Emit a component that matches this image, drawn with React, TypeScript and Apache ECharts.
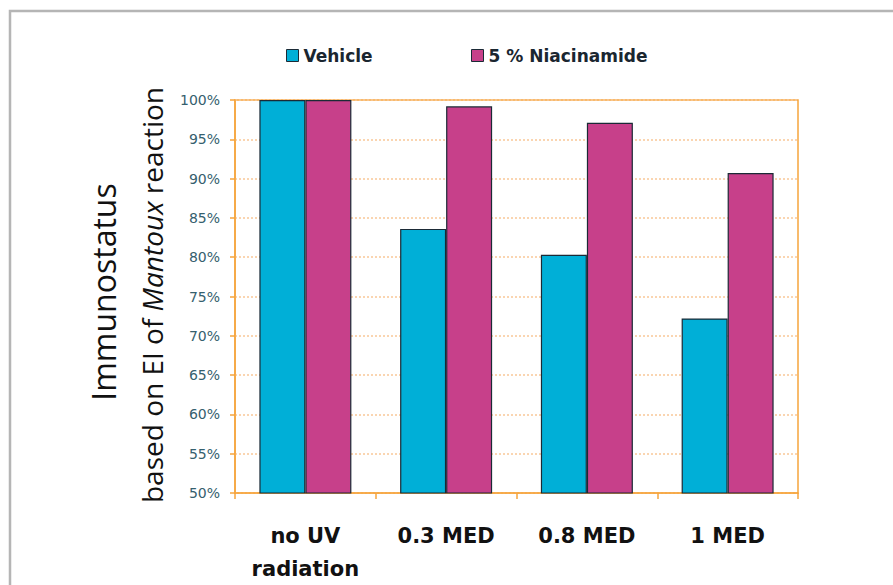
import React, { useEffect, useRef } from "react";
import * as echarts from "echarts";

const categories = ["no UV\nradiation", "0.3 MED", "0.8 MED", "1 MED"];
const vehicleValues = [100, 83.6, 80.3, 72.2];
const niacinamideValues = [100, 99.2, 97.1, 90.7];
const seriesNames = ["Vehicle", "5 % Niacinamide"];
const yMin = 50;
const yMax = 100;
const yStep = 5;

const ORANGE = "#f6a53c";
const GRID_DOT = "#f9c898";

export default function App() {
  const ref = useRef<HTMLDivElement>(null);
  useEffect(() => {
    if (!ref.current) return;
    const chart = echarts.init(ref.current, null, { renderer: "svg" });
    const legendText = { fontFamily: "DejaVu Sans", fontWeight: "bold", fontSize: 17, color: "#1a2630" };
    chart.setOption({
      animation: false,
      backgroundColor: "#ffffff",
      legend: [
        {
          data: [seriesNames[0]],
          left: 281,
          top: 42,
          icon: "rect",
          itemWidth: 12,
          itemHeight: 12,
          itemStyle: { borderColor: "#1b2a36", borderWidth: 1 },
          textStyle: legendText,
        },
        {
          data: [seriesNames[1]],
          left: 466,
          top: 42,
          icon: "rect",
          itemWidth: 12,
          itemHeight: 12,
          itemStyle: { borderColor: "#1b2a36", borderWidth: 1 },
          textStyle: legendText,
        },
      ],
      grid: {
        left: 235,
        right: 95,
        top: 100,
        bottom: 87,
        show: true,
        borderColor: ORANGE,
        borderWidth: 1.5,
        backgroundColor: "transparent",
      },
      xAxis: {
        type: "category",
        data: categories,
        axisLine: { lineStyle: { color: ORANGE, width: 1.5 } },
        axisTick: { show: true, length: 6, lineStyle: { color: ORANGE, width: 1.5 } },
        axisLabel: {
          margin: 26,
          fontFamily: "DejaVu Sans",
          fontWeight: "bold",
          fontSize: 21,
          lineHeight: 33,
          color: "#111111",
        },
      },
      yAxis: {
        type: "value",
        min: yMin,
        max: yMax,
        interval: yStep,
        axisLine: { show: true, lineStyle: { color: ORANGE, width: 1.5 } },
        axisTick: { show: true, length: 5, lineStyle: { color: ORANGE, width: 1.5 } },
        splitLine: { show: true, lineStyle: { color: GRID_DOT, width: 1.5, type: [2, 2] } },
        axisLabel: {
          formatter: "{value}%",
          margin: 15,
          fontFamily: "DejaVu Sans",
          fontSize: 14,
          color: "#35606e",
        },
      },
      series: [
        {
          name: seriesNames[0],
          type: "bar",
          data: vehicleValues,
          barWidth: 46,
          barGap: "0%",
          itemStyle: { color: "#00afd7", borderColor: "#1b2a36", borderWidth: 1.2 },
        },
        {
          name: seriesNames[1],
          type: "bar",
          data: niacinamideValues,
          barWidth: 46,
          barGap: "0%",
          itemStyle: { color: "#c7408a", borderColor: "#1b2a36", borderWidth: 1.2 },
        },
      ],
      graphic: [
        {
          type: "rect",
          shape: { x: 10, y: 11, width: 900, height: 600 },
          style: { fill: "none", stroke: "#b5b5b5", lineWidth: 2.5 },
          silent: true,
        },
        {
          type: "text",
          x: 103,
          y: 292,
          rotation: Math.PI / 2,
          style: {
            text: "Immunostatus",
            fontFamily: "Open Sans",
            fontSize: 32,
            fill: "#111111",
            align: "center",
            verticalAlign: "middle",
          },
        },
        {
          type: "text",
          x: 152,
          y: 295,
          rotation: Math.PI / 2,
          style: {
            text: "based on EI of {i|Mantoux} reaction",
            fontFamily: "Open Sans",
            fontSize: 28,
            fill: "#111111",
            align: "center",
            verticalAlign: "middle",
            rich: {
              i: { fontFamily: "Open Sans", fontSize: 28, fontStyle: "italic", fill: "#111111" },
            },
          },
        },
      ],
    });
    return () => chart.dispose();
  }, []);
  return (
    <div
      ref={ref}
      style={{ position: "fixed", left: 0, top: 0, width: 893, height: 585, background: "#fff" }}
    />
  );
}
